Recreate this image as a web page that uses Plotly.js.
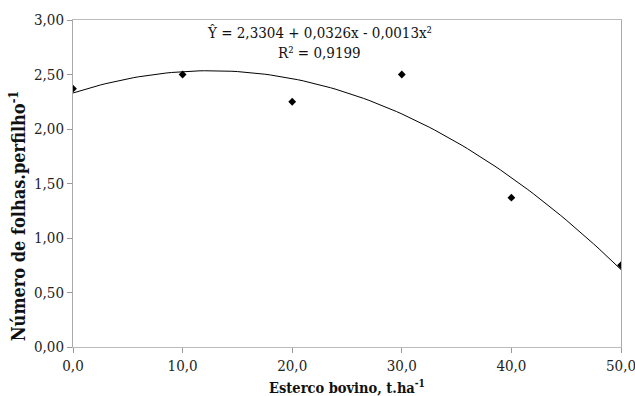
<!DOCTYPE html>
<html><head><meta charset="utf-8">
<script src="https://cdn.plot.ly/plotly-3.0.1.min.js"></script>
<style>body{margin:0;padding:0;background:#fff}#chart{width:635px;height:396px}</style>
</head><body><div id="chart"></div>
<script>
// Observed data
const doses = [0, 10, 20, 30, 40, 50];
const folhas = [2.37, 2.50, 2.25, 2.50, 1.37, 0.75];
// Regression coefficients shown on the chart: Y = b0 + b1 x + b2 x^2
const coefs = [2.3304, 0.0326, -0.0013];
const xTicks = [0, 10, 20, 30, 40, 50];
const yTicks = [0, 0.5, 1, 1.5, 2, 2.5, 3];

const curveX = [];
const curveY = [];
for (let i = 0; i <= 100; i++) {
  const x = doses[0] + (doses[doses.length - 1] - doses[0]) * i / 100;
  curveX.push(x);
  curveY.push(coefs[0] + coefs[1] * x + coefs[2] * x * x);
}

const font = "DejaVu Serif Condensed, DejaVu Serif, serif";

const traces = [
  {x: curveX, y: curveY, mode: 'lines', line: {color: '#000', width: 1}, hoverinfo: 'skip', showlegend: false},
  {x: doses, y: folhas, mode: 'markers', marker: {symbol: 'diamond', size: 6, color: '#000'}, showlegend: false}
];

const layout = {
  width: 635, height: 396,
  margin: {l: 73, r: 14, t: 20, b: 49},
  paper_bgcolor: '#fff', plot_bgcolor: '#fff',
  separators: ',.',
  font: {family: font, size: 15, color: '#222'},
  xaxis: {
    range: [0, 50], tickvals: xTicks, tickformat: '.1f',
    showgrid: false, zeroline: false, showline: true, linecolor: '#bbb', linewidth: 1,
    mirror: true, ticks: 'outside', ticklen: 5, tickcolor: '#999',
    ticklabeloverflow: 'allow',
    tickfont: {family: font, size: 15, color: '#222'},
    title: {text: '<b>Esterco bovino, t.ha<sup>-1</sup></b>', font: {family: font, size: 14.5, color: '#111'}, standoff: 8}
  },
  yaxis: {
    range: [0, 3], tickvals: yTicks, tickformat: '.2f',
    showgrid: false, zeroline: false, showline: true, linecolor: '#aaa', linewidth: 1,
    mirror: true, ticks: 'outside', ticklen: 5, tickcolor: '#999',
    tickfont: {family: font, size: 15, color: '#222'}
  },
  annotations: [
    {xref: 'paper', yref: 'paper', x: 0, y: 0.40, xshift: -55, xanchor: 'center', yanchor: 'middle', showarrow: false,
     textangle: -90, text: '<b>Número de folhas.perfilho<sup>-1</sup></b>', font: {family: font, size: 18, color: '#111'}},
    {xref: 'paper', yref: 'paper', x: 0.45, y: 0.96, xanchor: 'center', yanchor: 'middle', showarrow: false,
     text: 'Ŷ = 2,3304 + 0,0326x - 0,0013x²', font: {family: font, size: 15, color: '#111'}},
    {xref: 'paper', yref: 'paper', x: 0.45, y: 0.90, xanchor: 'center', yanchor: 'middle', showarrow: false,
     text: 'R² = 0,9199', font: {family: font, size: 15, color: '#111'}}
  ]
};

Plotly.newPlot('chart', traces, layout, {displayModeBar: false, staticPlot: true});
</script></body></html>
